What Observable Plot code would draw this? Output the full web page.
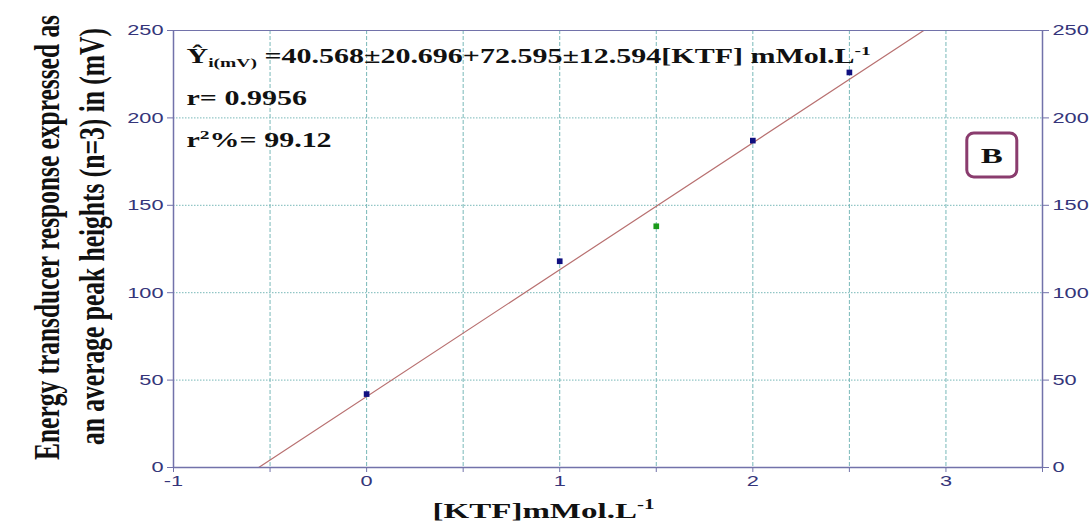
<!DOCTYPE html>
<html><head><meta charset="utf-8">
<script src="https://cdn.jsdelivr.net/npm/d3@7"></script>
<script src="https://cdn.jsdelivr.net/npm/@observablehq/plot@0.6"></script>
<style>
body{margin:0;background:#fff;}
#chart{position:relative;width:1089px;height:526px;}
.ser{font-family:"Liberation Serif","Times New Roman",serif !important;font-weight:bold;}
</style></head>
<body><div id="chart"></div>
<script>
const concentrations = [0, 1, 1.5, 2, 2.5];
const responses = [42, 118, 138, 187, 226];
const pointGroups = ["std", "std", "sample", "std", "std"];
const intercept = 40.568, slope = 72.595;
const xTicks = [-1, 0, 1, 2, 3];
const xMinor = [-1, -0.5, 0, 0.5, 1, 1.5, 2, 2.5, 3, 3.5];
const yTicks = [0, 50, 100, 150, 200, 250];
const yLabelLines = ["Energy transducer response expressed as", "an average peak heights (n=3) in (mV)"];
const xLabel = "[KTF]mMol.L";

const pts = concentrations.map((c, i) => ({x: c, y: responses[i], g: pointGroups[i]}));
const lineXs = [-1, 3.5];
const fit = lineXs.map(x => ({x, y: intercept + slope * x}));

const axisCol = "#7272aa", labCol = "#35357a", gridCol = "#78b8b8";
const plot = Plot.plot({
  width: 1089, height: 526,
  marginLeft: 173, marginRight: 47, marginTop: 30, marginBottom: 59,
  style: {fontFamily: "Liberation Sans, Arial, sans-serif", fontSize: "15px", color: labCol, background: "#fff"},
  x: {domain: [-1, 3.5], ticks: xTicks, label: null},
  y: {domain: [0, 250], ticks: yTicks, label: null},
  marks: [
    Plot.ruleX(xMinor.filter(v => v > -1 && v < 3.5), {stroke: gridCol, strokeDasharray: "4,2", strokeWidth: 1}),
    Plot.ruleY(yTicks.filter(v => v > 0 && v < 250), {stroke: gridCol, strokeDasharray: "1.5,1.5", strokeWidth: 1}),
    Plot.line(fit, {x: "x", y: "y", stroke: "#b87070", strokeWidth: 1.2, clip: true}),
    Plot.dot(pts, {x: "x", y: "y", symbol: "square", r: 3.2, fill: d => d.g === "sample" ? "#1a9a1a" : "#101080", stroke: null}),
    Plot.axisX({ticks: xMinor, tickSize: 5, tickFormat: () => "", stroke: axisCol}),
    Plot.axisX({ticks: xTicks, tickSize: 0, tickPadding: 8, fill: labCol, fontSize: 15, tickFormat: d => String(d)}),
    Plot.axisY({anchor: "left", ticks: yTicks, tickSize: 6, tickPadding: 4, fill: labCol, stroke: axisCol, fontSize: 15, tickFormat: d => String(d)}),
    Plot.axisY({anchor: "right", ticks: yTicks, tickSize: 6, tickPadding: 4, fill: labCol, stroke: axisCol, fontSize: 15, tickFormat: d => String(d)}),
    Plot.ruleX([-1, 3.5], {stroke: axisCol, strokeWidth: 1.5}),
    Plot.ruleY([0], {stroke: axisCol, strokeWidth: 1.5}),
    Plot.ruleY([250], {stroke: axisCol, strokeWidth: 1})
  ]
});
document.getElementById("chart").appendChild(plot);

const sx = plot.scale("x"), sy = plot.scale("y");
const svg = d3.select(plot);

// widen tick labels horizontally like the reference
svg.selectAll("g[aria-label$='tick label'] text").each(function() {
  const t = this.getAttribute("transform") || "";
  this.setAttribute("transform", t + " scale(1.45,1)");
});

const ann = svg.append("g").attr("fill", "#111").attr("text-anchor", "start");
const hx = 1.5;
function label(xv, yv, size) {
  return ann.append("text").attr("class", "ser").attr("font-size", size)
    .attr("transform", `translate(${sx.apply(xv)},${sy.apply(yv)}) scale(${hx},1)`);
}

// equation line
const t1 = label(-0.93, 231, 20);
t1.append("tspan").text("Ŷ");
t1.append("tspan").attr("font-size", 13).attr("dy", 4).text("i(mV)");
t1.append("tspan").attr("dy", -4).text(" =40.568±20.696+72.595±12.594[KTF] mMol.L");
t1.append("tspan").attr("font-size", 13).attr("dy", -8).text("-1");

label(-0.93, 207, 20).text("r= 0.9956");
const t3 = label(-0.93, 183, 20);
t3.append("tspan").text("r");
t3.append("tspan").attr("font-size", 13).attr("dy", -8).text("2");
t3.append("tspan").attr("dy", 8).text("%= 99.12");

// panel label box
const bx = sx.apply(3.24), by = sy.apply(178.5);
ann.append("rect").attr("x", bx - 25).attr("y", by - 22).attr("width", 50).attr("height", 44).attr("rx", 7)
  .attr("fill", "#fff").attr("stroke", "#8a3c6e").attr("stroke-width", 3);
ann.append("text").attr("class", "ser").attr("font-size", 22).attr("text-anchor", "middle")
  .attr("transform", `translate(${bx},${by + 8}) scale(${hx},1)`).text("B");

// x label
const xl = ann.append("text").attr("class", "ser").attr("font-size", 22).attr("text-anchor", "middle")
  .attr("transform", `translate(${(sx.apply(-1) + sx.apply(3.5)) / 2 - 64},518) scale(${hx},1)`);
xl.append("tspan").text(xLabel);
xl.append("tspan").attr("font-size", 14).attr("dy", -9).text("-1");

// y labels (rotated, two lines)
const yLen = [445, 417], yBase = [59, 104], yMid = [237.5, 236.5];
yLabelLines.forEach((s, i) => {
  ann.append("text").attr("class", "ser").attr("font-size", 24).attr("text-anchor", "middle")
    .attr("textLength", yLen[i]).attr("lengthAdjust", "spacingAndGlyphs")
    .attr("transform", `translate(${yBase[i]},${yMid[i]}) rotate(-90) scale(1,1.45)`)
    .text(s);
});
</script></body></html>
